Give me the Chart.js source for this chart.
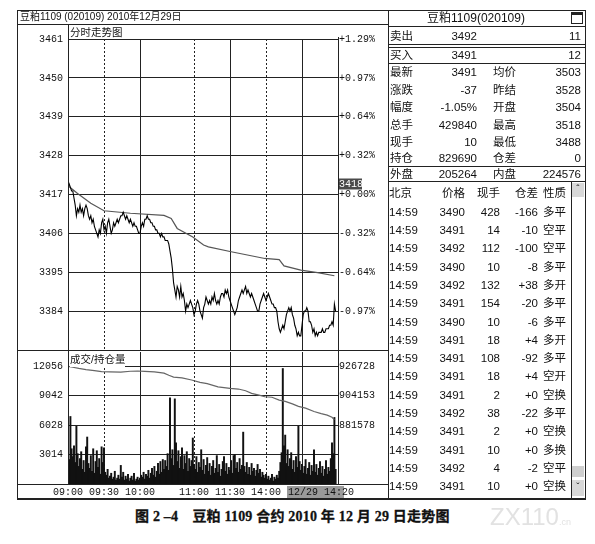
<!DOCTYPE html>
<html>
<head>
<meta charset="utf-8">
<script src="https://cdn.jsdelivr.net/npm/chart.js@4"></script>
<style>
body { margin:0; background:#fff; width:595px; height:544px; position:relative; overflow:hidden;
       font-family:"Liberation Sans","Noto Sans CJK SC",sans-serif; color:#111; }
.t { position:absolute; line-height:16px; font-size:11.5px; white-space:pre; }
.h { position:absolute; height:0; border-top:1px solid #222; }
.v { position:absolute; width:0; border-left:1px solid #222; }
.cap { font-family:"Liberation Serif","Noto Sans CJK SC",serif; font-weight:bold; font-size:14px;
       letter-spacing:0.2px; -webkit-text-stroke:0.3px #111; }
.wm { font-family:"Liberation Sans",sans-serif; font-size:24px; color:#e2e2e2; }
canvas { position:absolute; }
</style>
</head>
<body>
<canvas id="price" width="371" height="328" style="left:17px;top:24px"></canvas>
<canvas id="vol" width="371" height="148" style="left:17px;top:350px"></canvas>
<div id="panel"></div>

<script>
// minute index: 0 = 09:00, sessions 9:00-10:15, 10:30-11:30, 13:30-15:00
var timeTicks = [0, 30, 60, 105, 135, 165];
var timeLabels = ['09:00', '09:30', '10:00', '11:00', '11:30', '14:00'];
var gridMinutes = [30, 60, 105, 135, 165, 195];
var dashedMinutes = [30, 105, 165];
var cursorMinute = 185, cursorLabel = '12/29 14:20';

var priceTicks = [3384, 3395, 3406, 3417, 3428, 3439, 3450, 3461];
var pctLabels = ['-0.97%', '-0.64%', '-0.32%', '+0.00%', '+0.32%', '+0.64%', '+0.97%', '+1.29%'];
var volTicks = [3014, 6028, 9042, 12056];
var oiTicks = [881578, 904153, 926728];

// last price per minute
var price = [
 3419,3420,3419,3418,3418,3416,3414,3411,3413,3412,3414,3412,3413,3411,3413,3414,3413,3411,3410,3411,
 3409,3410,3408,3407,3406,3405,3407,3406,3409,3410,3407,3408,3406,3409,3410,3408,3406,3407,3409,3408,
 3409,3410,3409,3410,3411,3411,3412,3411,3410,3411,3410,3409,3410,3409,3408,3409,3408,3408,3407,3406,
 3406,3408,3409,3408,3410,3410,3411,3410,3410,3409,3409,3408,3408,3407,3407,3406,3406,3405,3406,3405,
 3405,3404,3404,3404,3403,3401,3399,3396,3392,3390,3388,3391,3390,3388,3391,3388,3389,3387,3384,3386,
 3385,3386,3387,3386,3385,3383,3384,3386,3387,3386,3384,3383,3382,3385,3386,3388,3387,3386,3387,3386,
 3388,3387,3389,3387,3386,3387,3386,3388,3389,3389,3388,3390,3389,3390,3388,3387,3386,3385,3384,3383,
 3384,3385,3387,3388,3389,3390,3389,3390,3391,3389,3390,3389,3388,3389,3388,3387,3386,3385,3384,3384,
 3386,3387,3388,3389,3388,3387,3388,3389,3388,3387,3386,3386,3385,3385,3384,3381,3379,3378,3379,3380,
 3379,3381,3383,3384,3385,3384,3385,3383,3382,3380,3379,3377,3378,3377,3377,3380,3383,3384,3384,3385,
 3384,3381,3381,3380,3378,3379,3377,3378,3377,3378,3378,3378,3379,3378,3378,3379,3379,3379,3380,3380,
 3381,3380,3386,3384
];
// average price line [minute, price]
var avgPrice = [[0,3419.5],[8,3417.3],[19,3414.5],[30,3412.4],[52,3411.7],[80,3411.1],[86,3410.2],[91,3407.4],
 [104,3405],[113,3402.7],[117,3402.2],[136,3400.8],[164,3398.9],[176,3398.6],[180,3396.8],[194,3395.6],[208,3394.9],[222,3394]];

// volume per minute
var volume = [
 3200,2500,6900,3600,2800,3900,2200,5900,3100,1800,2600,3300,1500,2400,1200,3800,4800,2100,1600,2900,
 1300,3600,1100,2300,3400,1700,2600,1000,3800,2200,3700,1200,900,1500,600,800,1100,500,700,1300,
 400,600,900,500,1900,700,1200,400,800,500,1000,300,600,800,400,1100,300,500,700,400,
 600,900,700,1200,500,1000,800,1400,600,1100,1600,900,1800,700,1300,2100,1000,2300,1200,2500,
 1500,2400,1800,3100,1400,8800,2600,3500,1900,8700,4200,2300,3400,1600,2800,3700,1500,2900,2100,3300,
 1300,2600,1800,2400,4700,2000,1500,2800,1200,2200,1700,3500,1400,2500,1000,1900,2700,1300,2100,900,
 1800,2400,1100,1600,2900,1200,2000,800,1500,2300,2800,1300,2100,1000,1700,1400,2400,1100,2900,3000,
 1600,2200,1200,2600,1500,1900,5300,1800,1200,2200,1000,1700,900,2100,1300,1600,800,1400,2000,1100,
 1500,700,1200,900,600,1000,500,800,400,600,1000,300,700,500,900,600,1300,2200,3200,11800,
 3900,5000,2100,3500,1800,2600,3200,1500,2400,1200,2800,1700,5900,2300,1400,2000,1100,1800,2500,1000,
 1600,2200,900,1900,1300,3500,1200,2000,900,1600,2300,1100,1800,800,1500,2400,1000,1700,1300,2600,
 4200,3100,6800,1500
];
// open interest [minute, contracts]
var openInterest = [[0,926500],[4,925800],[9,924900],[15,924000],[22,923200],[28,922500],[35,922300],[44,922100],
 [52,922700],[58,922900],[64,922600],[72,922300],[80,921300],[84,919600],[88,918200],[95,917600],[103,916000],
 [110,914200],[116,913300],[125,910800],[135,909600],[142,909100],[148,907800],[153,905800],[160,904200],
 [164,903200],[170,902800],[176,900600],[181,899600],[187,897700],[192,895800],[198,894500],[205,891900],
 [211,890300],[216,889100],[220,887500],[222,885600]];

var monoFont = { family: 'Liberation Mono', size: 10 };
function plain(v) { return String(v); }
function noPad(s) { s.paddingTop = 0; s.paddingBottom = 0; }

var vGrid = {
    id: 'vGrid',
    beforeDatasetsDraw: function (chart) {
        var ctx = chart.ctx, x = chart.scales.x, a = chart.chartArea;
        ctx.save();
        ctx.strokeStyle = '#222';
        ctx.lineWidth = 1;
        gridMinutes.forEach(function (m) {
            var px = Math.round(x.getPixelForValue(m)) + 0.5;
            ctx.setLineDash(dashedMinutes.indexOf(m) >= 0 ? [2, 2] : []);
            ctx.beginPath();
            ctx.moveTo(px, a.top);
            ctx.lineTo(px, a.bottom);
            ctx.stroke();
        });
        ctx.restore();
    }
};

// small dark box with the last price above the 0.00% label
var lastBox = {
    id: 'lastBox',
    afterDraw: function (chart) {
        var ctx = chart.ctx, a = chart.chartArea;
        var y = chart.scales.y.getPixelForValue(3417) - 11;
        ctx.save();
        ctx.fillStyle = '#4a4a4a';
        ctx.fillRect(a.right + 1, y - 5, 23, 11);
        ctx.fillStyle = '#fff';
        ctx.font = '10px "Liberation Mono"';
        ctx.textBaseline = 'middle';
        ctx.fillText('3418', a.right + 1, y + 1);
        ctx.restore();
    }
};

var cursorBox = {
    id: 'cursorBox',
    afterDraw: function (chart) {
        var ctx = chart.ctx, a = chart.chartArea;
        var x = chart.scales.x.getPixelForValue(cursorMinute) - 3;
        ctx.save();
        ctx.fillStyle = '#9a9a9a';
        ctx.fillRect(x, a.bottom + 2, 57, 12);
        ctx.fillStyle = '#111';
        ctx.font = '10px "Liberation Mono"';
        ctx.textBaseline = 'middle';
        ctx.fillText(cursorLabel, x + 1, a.bottom + 8.5);
        ctx.restore();
    }
};

new Chart(document.getElementById('price'), {
    type: 'line',
    data: {
        datasets: [{
            data: price.map(function (p, i) { return { x: i, y: p }; }),
            borderColor: '#000',
            borderWidth: 1.1,
            pointRadius: 0
        }, {
            data: avgPrice.map(function (d) { return { x: d[0], y: d[1] }; }),
            borderColor: '#555',
            borderWidth: 1.2,
            pointRadius: 0
        }]
    },
    options: {
        responsive: false,
        animation: false,
        events: [],
        layout: { padding: { top: 15, bottom: 2 } },
        plugins: { legend: { display: false }, tooltip: { enabled: false } },
        scales: {
            x: { type: 'linear', min: 0, max: 225, display: false },
            y: {
                position: 'left', min: 3373, max: 3461,
                afterBuildTicks: function (s) { s.ticks = priceTicks.map(function (v) { return { value: v }; }); },
                afterFit: function (s) { s.width = 51; noPad(s); },
                ticks: { padding: 5, font: monoFont, color: '#111', callback: plain },
                grid: { color: '#222', drawTicks: false },
                border: { color: '#222' }
            },
            yp: {
                position: 'right', min: 3373, max: 3461,
                afterBuildTicks: function (s) { s.ticks = priceTicks.map(function (v) { return { value: v }; }); },
                afterFit: function (s) { s.width = 50; noPad(s); },
                ticks: {
                    padding: 1, font: monoFont, color: '#111',
                    callback: function (v) { return pctLabels[priceTicks.indexOf(v)]; }
                },
                grid: { display: false, drawTicks: false },
                border: { color: '#222' }
            }
        }
    },
    plugins: [vGrid, lastBox]
});

new Chart(document.getElementById('vol'), {
    type: 'bar',
    data: {
        datasets: [{
            type: 'line',
            data: openInterest.map(function (d) { return { x: d[0], y: d[1] }; }),
            yAxisID: 'yo',
            borderColor: '#666',
            borderWidth: 1.2,
            pointRadius: 0
        }, {
            data: volume.map(function (v, i) { return { x: i, y: v }; }),
            yAxisID: 'y',
            backgroundColor: '#111',
            barThickness: 1.3
        }]
    },
    options: {
        responsive: false,
        animation: false,
        events: [],
        layout: { padding: { top: 2 } },
        plugins: { legend: { display: false }, tooltip: { enabled: false } },
        scales: {
            x: {
                type: 'linear', min: 0, max: 225, offset: false,
                afterBuildTicks: function (s) { s.ticks = timeTicks.map(function (v) { return { value: v }; }); },
                afterFit: function (s) { s.height = 14; s.paddingLeft = 0; s.paddingRight = 0; },
                ticks: {
                    autoSkip: false, maxRotation: 0, padding: 2, font: monoFont, color: '#111',
                    callback: function (v) { return timeLabels[timeTicks.indexOf(v)]; }
                },
                grid: { display: false, drawTicks: false },
                border: { color: '#222' }
            },
            y: {
                position: 'left', min: 0, max: 13487,
                afterBuildTicks: function (s) { s.ticks = volTicks.map(function (v) { return { value: v }; }); },
                afterFit: function (s) { s.width = 51; noPad(s); },
                ticks: { padding: 5, font: monoFont, color: '#111', callback: plain },
                grid: { color: '#222', drawTicks: false },
                border: { color: '#222' }
            },
            yo: {
                position: 'right', min: 836428, max: 937446,
                afterBuildTicks: function (s) { s.ticks = oiTicks.map(function (v) { return { value: v }; }); },
                afterFit: function (s) { s.width = 50; noPad(s); },
                ticks: { padding: 1, font: monoFont, color: '#111', callback: plain },
                grid: { display: false, drawTicks: false },
                border: { color: '#222' }
            }
        }
    },
    plugins: [vGrid, cursorBox]
});

// ---- frame, labels and the quote panel ----
var quoteTop = [['卖出', '3492', '11'], ['买入', '3491', '12']];
var quoteRows = [['最新', '3491', '均价', '3503'], ['涨跌', '-37', '昨结', '3528'], ['幅度', '-1.05%', '开盘', '3504'],
    ['总手', '429840', '最高', '3518'], ['现手', '10', '最低', '3488'], ['持仓', '829690', '仓差', '0'],
    ['外盘', '205264', '内盘', '224576']];
var tradeHead = ['北京', '价格', '现手', '仓差', '性质'];
var trades = [
    ['14:59', '3490', '428', '-166', '多平'], ['14:59', '3491', '14', '-10', '空平'],
    ['14:59', '3492', '112', '-100', '空平'], ['14:59', '3490', '10', '-8', '多平'],
    ['14:59', '3492', '132', '+38', '多开'], ['14:59', '3491', '154', '-20', '多平'],
    ['14:59', '3490', '10', '-6', '多平'], ['14:59', '3491', '18', '+4', '多开'],
    ['14:59', '3491', '108', '-92', '多平'], ['14:59', '3491', '18', '+4', '空开'],
    ['14:59', '3491', '2', '+0', '空换'], ['14:59', '3492', '38', '-22', '多平'],
    ['14:59', '3491', '2', '+0', '空换'], ['14:59', '3491', '10', '+0', '多换'],
    ['14:59', '3492', '4', '-2', '空平'], ['14:59', '3491', '10', '+0', '空换']];

var panel = document.getElementById('panel');
function add(html) { panel.insertAdjacentHTML('beforeend', html); }
function txt(s, x, y, align, style, cls) {
    var pos = align == 'right' ? 'right:' + (595 - x) + 'px;' : align == 'center' ? 'left:' + (x - 100) + 'px;width:200px;text-align:center;' : 'left:' + x + 'px;';
    add('<div class="t ' + (cls || '') + '" style="' + pos + 'top:' + (y - 8) + 'px;' + (style || '') + '">' + s + '</div>');
}
function hline(x1, x2, y, w) { add('<div class="h" style="left:' + x1 + 'px;width:' + (x2 - x1) + 'px;top:' + y + 'px;' + (w ? 'border-top-width:' + w + 'px' : '') + '"></div>'); }
function vline(x, y1, y2) { add('<div class="v" style="left:' + x + 'px;top:' + y1 + 'px;height:' + (y2 - y1) + 'px"></div>'); }

// left frame
hline(17, 586, 10); hline(17, 586, 498, 2);
vline(17, 10, 499); vline(388, 10, 499); vline(585, 10, 499);
hline(17, 388, 24); hline(17, 388, 350); hline(17, 388, 484);
vline(68, 24, 484); vline(338, 37, 484);
txt('豆粕1109 (020109) 2010年12月29日', 20, 17, 'left', 'font-size:10px');
txt('分时走势图', 70, 32, 'left', 'font-size:10.5px');
txt('成交/持仓量', 70, 359, 'left', 'font-size:10.5px;background:#fff');

// right panel
txt('豆粕1109(020109)', 476, 18, 'center', 'font-size:12px');
add('<div style="position:absolute;left:571px;top:12px;width:10px;height:8px;border:1px solid #222;border-top-width:3px"></div>');
hline(388, 585, 26); hline(388, 585, 44); hline(388, 585, 47); hline(388, 585, 63);
hline(388, 585, 166); hline(388, 585, 181);
quoteTop.forEach(function (r, i) {
    var y = i ? 55 : 36;
    txt(r[0], 390, y); txt(r[1], 477, y, 'right'); txt(r[2], 581, y, 'right');
});
var quoteY = [72, 89.5, 107, 124.5, 142, 157.5, 173.5];
quoteRows.forEach(function (r, i) {
    var y = quoteY[i];
    txt(r[0], 390, y); txt(r[1], 477, y, 'right'); txt(r[2], 493, y); txt(r[3], 581, y, 'right');
});
function tradeRow(r, y) {
    txt(r[0], 389, y); txt(r[1], 465, y, 'right'); txt(r[2], 500, y, 'right');
    txt(r[3], 538, y, 'right'); txt(r[4], 543, y);
}
tradeRow(tradeHead, 193);
trades.forEach(function (r, i) { tradeRow(r, 211.7 + i * 18.3); });
// scroll bar
vline(571, 181, 498);
add('<div style="position:absolute;left:572px;top:183px;width:12px;height:14px;background:#d8d8d8;font-size:10px;line-height:14px;text-align:center">&#710;</div>');
add('<div style="position:absolute;left:572px;top:466px;width:12px;height:11px;background:#cfcfcf"></div>');
add('<div style="position:absolute;left:572px;top:480px;width:12px;height:16px;background:#d8d8d8;font-size:10px;line-height:16px;text-align:center">&#711;</div>');

// caption
txt('图 2 –4　豆粕 1109 合约 2010 年 12 月 29 日走势图', 135, 517, 'left', 'line-height:18px;top:508px', 'cap');
txt('ZX110<span style="font-size:9px">.cn</span>', 490, 517, 'left', 'line-height:24px;top:505px', 'wm');
</script>
</body>
</html>
